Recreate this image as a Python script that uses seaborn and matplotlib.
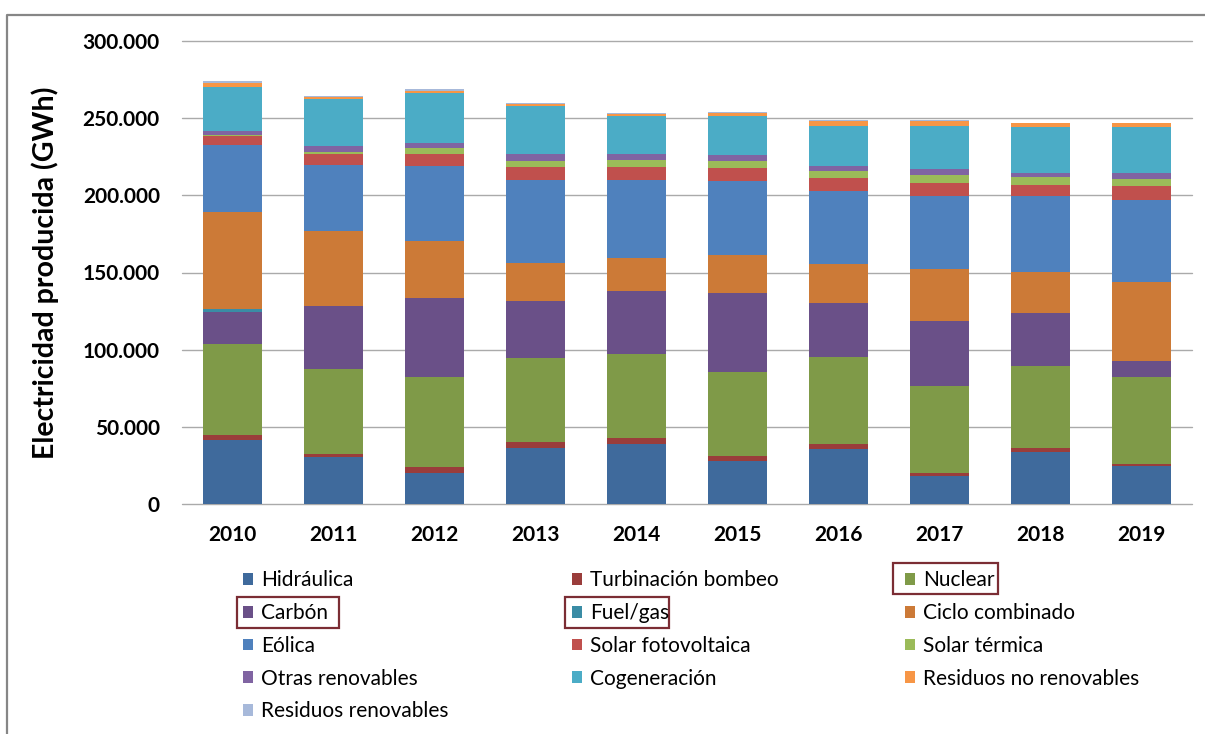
import numpy as np
import matplotlib
matplotlib.use("Agg")
import matplotlib.pyplot as plt
import seaborn as sns
from matplotlib.patches import Rectangle, Patch
from matplotlib.lines import Line2D
from matplotlib.ticker import FuncFormatter

# ---------------- data (GWh) ----------------
years = [2010, 2011, 2012, 2013, 2014, 2015, 2016, 2017, 2018, 2019]

hidraulica = [41700, 30300, 20100, 36600, 38900, 27900, 35800, 18000, 33900, 24400]
turbinacion = [2900, 2300, 3700, 3600, 3700, 3200, 3100, 2300, 2200, 1500]
nuclear = [59200, 54700, 58300, 54200, 54600, 54600, 56200, 56200, 53300, 56200]
carbon = [20900, 41000, 51200, 37300, 41000, 51200, 35200, 42300, 34500, 10800]
fuel_gas = [1600, 0, 0, 0, 0, 0, 0, 0, 0, 0]
ciclo_combinado = [63000, 48800, 37300, 24600, 21000, 24400, 25300, 33300, 26400, 51200]
eolica = [43400, 42600, 48400, 53800, 50900, 48100, 47500, 47500, 49200, 52900]
solar_fv = [6000, 7100, 7800, 8000, 8000, 8000, 8000, 8600, 7100, 8900]
solar_termica = [500, 1500, 3700, 4300, 4900, 4900, 4900, 5000, 5000, 4900]
otras_renovables = [2800, 3700, 3600, 4300, 3500, 3700, 3000, 3700, 2800, 3700]
cogeneracion = [28100, 30400, 32200, 31100, 24800, 25300, 25900, 28000, 29600, 29600]
residuos_no_renovables = [3000, 1400, 1500, 1700, 1700, 2100, 3200, 3200, 2600, 2600]
residuos_renovables = [700, 600, 900, 400, 300, 900, 500, 500, 400, 400]

series_names = ["Hidráulica", "Turbinación bombeo", "Nuclear", "Carbón", "Fuel/gas",
                "Ciclo combinado", "Eólica", "Solar fotovoltaica", "Solar térmica",
                "Otras renovables", "Cogeneración", "Residuos no renovables",
                "Residuos renovables"]
series_values = [hidraulica, turbinacion, nuclear, carbon, fuel_gas, ciclo_combinado,
                 eolica, solar_fv, solar_termica, otras_renovables, cogeneracion,
                 residuos_no_renovables, residuos_renovables]
series_colors = ["#3F6A9C", "#9A3D3B", "#7F9A48", "#6A5088", "#3A8CA5", "#CC7A37",
                 "#4F81BD", "#C0504D", "#9BBB59", "#8064A2", "#4BACC6", "#F79646",
                 "#A7B9DA"]

# ---------------- style ----------------
sns.set_theme(style="white")
plt.rcParams['font.family'] = ['Lato', 'DejaVu Sans']
plt.rcParams['font.weight'] = 'bold'
plt.rcParams['text.color'] = 'black'
plt.rcParams['xtick.color'] = 'black'
plt.rcParams['ytick.color'] = 'black'
plt.rcParams['axes.labelcolor'] = 'black'

W, H = 1205, 734
fig = plt.figure(figsize=(W / 100, H / 100), dpi=100)
ax = fig.add_axes([182 / W, 1 - 504 / H, (1192 - 182) / W, (504 - 41) / H])

year_labels = [str(y) for y in years]
bottom = np.zeros(len(years))
for name, vals, col in zip(series_names, series_values, series_colors):
    vals = np.asarray(vals, dtype=float)
    sns.barplot(x=year_labels, y=vals, bottom=bottom, color=col, width=0.575,
                errorbar=None, saturation=1, linewidth=0, ax=ax, zorder=3)
    bottom = bottom + vals

ax.set_xlim(-0.5, 9.5)
ax.set_ylim(0, 300000)
ax.set_yticks(range(0, 300001, 50000))
ax.yaxis.set_major_formatter(FuncFormatter(lambda v, p: f"{int(v):,}".replace(",", ".")))
ax.grid(axis='y', color='#AAAAAA', lw=1.0)
ax.grid(axis='x', visible=False)
ax.set_axisbelow(True)
for gl in ax.get_ygridlines():
    gl.set_clip_on(False)
for s in ax.spines.values():
    s.set_visible(False)
ax.tick_params(axis='both', length=0, labelsize=15)
ax.tick_params(axis='y', pad=16)
ax.tick_params(axis='x', pad=15)
ax.set_xlabel("")
ax.set_ylabel("Electricidad producida (GWh)", fontsize=20.5, fontweight='bold')
ax.yaxis.set_label_coords((59 - 182) / 1010, 0.5)

# chart-area border (left and top edges)
fig.add_artist(Line2D([7.5 / W, 7.5 / W, 1.0], [0.0, 1 - 15 / H, 1 - 15 / H],
                      transform=fig.transFigure, color='#868686', lw=1.6))

# ---------------- legend (3 columns) ----------------
columns = [[0, 3, 6, 9, 12], [1, 4, 7, 10], [2, 5, 8, 11]]
col_x = [243, 572, 905]
for idx, cx in zip(columns, col_x):
    handles = [Patch(facecolor=series_colors[i], edgecolor='none') for i in idx]
    labels = [series_names[i] for i in idx]
    fig.legend(handles, labels, loc='upper left', bbox_to_anchor=(cx / W, 1 - 570.5 / H),
               frameon=False, borderpad=0, borderaxespad=0, handlelength=0.5,
               handleheight=0.5, handletextpad=0.38, labelspacing=0.61,
               prop={'size': 15, 'weight': 'normal'})

# highlight boxes around Nuclear, Carbón, Fuel/gas
for (x0, y0, x1, y1) in [(893, 563, 998, 594), (237, 597, 339, 628), (565, 597, 669, 628)]:
    fig.add_artist(Rectangle((x0 / W, 1 - y1 / H), (x1 - x0) / W, (y1 - y0) / H,
                             transform=fig.transFigure, fill=False,
                             edgecolor='#7B2D34', lw=1.6))

fig.savefig("out.png", dpi=100)
